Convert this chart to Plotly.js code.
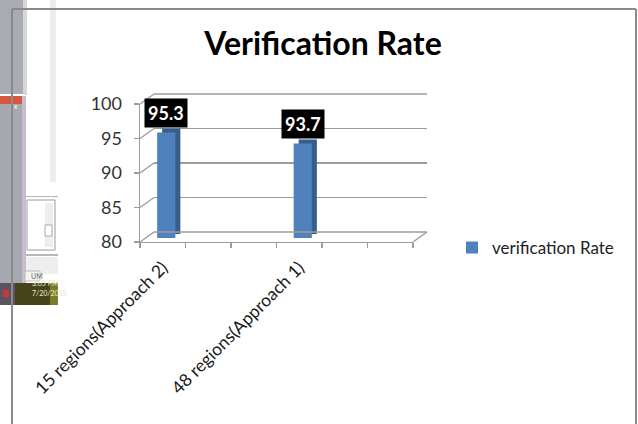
<!DOCTYPE html>
<html>
<head>
<meta charset="utf-8">
<script src="https://cdn.plot.ly/plotly-3.0.1.min.js"></script>
<style>html,body{margin:0;padding:0;background:#fff}#chart{width:638px;height:424px}</style>
</head>
<body>
<div id="chart"></div>
<script>
// ---- data ----
const categories = ["15 regions(Approach 2)", "(blank 2)", "(blank 3)", "48 regions(Approach 1)", "(blank 5)", "(blank 6)"];
const labeledCategories = ["15 regions(Approach 2)", "48 regions(Approach 1)"];
const values = [95.3, null, null, 93.7, null, null];
const seriesName = "verification Rate";
const yTicks = [80, 85, 90, 95, 100];
const chartTitle = "Verification Rate";

// ---- layout helpers (pixel -> paper) ----
const W = 638, H = 424;
const px = p => p / W;
const py = p => 1 - p / H;
const yMin = 80, yMax = 100;
const idx = categories.map((_, i) => i);
const labelIdx = labeledCategories.map(c => categories.indexOf(c));
const xRange = [-0.5, categories.length - 0.5];

// 3D-ish planes: back wall, front axis, bar front face, bar depth
const backX = [px(154), px(427)], backY = [py(232), py(94)];
const frontX = [px(140), px(413)], frontY = [py(242), py(104)];
const faceX = [px(143.5), px(416.5)], faceY = [py(238), py(100)];
const depthX = [px(148.5), px(421.5)], depthY = [py(234), py(96)];

const gridCol = "#9c9c9c";
const font = "Lato, 'Open Sans', sans-serif";

const ghost = (xa, ya) => ({type: "scatter", mode: "markers", x: idx, y: values, xaxis: xa, yaxis: ya,
  marker: {opacity: 0}, showlegend: false, hoverinfo: "skip"});

const traces = [
  ghost("x", "y"),
  ghost("x2", "y2"),
  {type: "bar", x: idx, y: values, xaxis: "x3", yaxis: "y3", width: 0.4,
   marker: {color: "#385D8A"}, showlegend: false, hoverinfo: "skip"},
  {type: "bar", x: idx, y: values, xaxis: "x4", yaxis: "y4", width: 0.4,
   marker: {color: "#4F81BD"}, name: seriesName, showlegend: true}
];

const frac = (v, dom) => dom[0] + (v - yMin) / (yMax - yMin) * (dom[1] - dom[0]);

const shapes = [];
// screenshot artifacts on the left
const rect = (x0, y0, x1, y1, fill, line) => shapes.push({type: "rect", xref: "paper", yref: "paper",
  x0: px(x0), x1: px(x1), y0: py(y1), y1: py(y0), fillcolor: fill, line: {width: line ? 1 : 0, color: line || fill}, layer: "below"});
rect(0, 0, 25, 94, "#a8abb1");
rect(23, 0, 27, 95, "#d4d6da");
rect(50, 0, 56, 182, "#eeeeee");
rect(0, 96, 24, 104, "#d6573c");
rect(0, 104, 22, 284, "#a6a9b0");
rect(22, 96, 26, 284, "#c6bccb");
rect(26, 196, 58, 197, "#b5b5b5");
rect(27, 200, 55, 250, "#ffffff", "#9a9a9a");
rect(45, 203, 53, 247, "#eeeeee");
rect(45, 225, 52, 236, "#ffffff", "#aaaaaa");
rect(26, 254, 58, 256, "#b8b8b8");
rect(26, 257, 58, 274, "#eeeeee");
rect(25, 271, 40, 281, "#f4f4f4", "#bbbbbb");
rect(0, 283, 15, 305, "#5d5260");
rect(3, 290, 9, 297, "#c8383a");
rect(15, 283, 50, 305, "#45441c");
rect(50, 283, 58, 305, "#7d7c26");
// chart frame
const line = (x0, y0, x1, y1, col, w) => shapes.push({type: "line", xref: "paper", yref: "paper",
  x0: px(x0), x1: px(x1), y0: py(y0), y1: py(y1), line: {color: col, width: w}});
line(12, 9, 12, 424, "#8a8a8a", 2);
line(12, 9, 636, 9, "#8a8a8a", 2);
line(636, 9, 636, 424, "#8a8a8a", 2);
// left wall diagonals for each tick
yTicks.forEach(v => {
  shapes.push({type: "line", xref: "paper", yref: "paper",
    x0: frontX[0], y0: frac(v, frontY), x1: backX[0], y1: frac(v, backY),
    line: {color: gridCol, width: 1.4}});
});
// back wall edges at the range ends (floor and top)
[yMin, yMax].forEach(v => {
  shapes.push({type: "line", xref: "paper", yref: "paper",
    x0: backX[0], y0: frac(v, backY), x1: backX[1], y1: frac(v, backY),
    line: {color: gridCol, width: 1.4}});
});
// right floor edge
shapes.push({type: "line", xref: "paper", yref: "paper",
  x0: frontX[1], y0: frontY[0], x1: backX[1], y1: backY[0], line: {color: gridCol, width: 1.4}});

const annotations = [];
categories.forEach((c, i) => {
  if (values[i] == null) return;
  annotations.push({xref: "x4", yref: "y4", x: i, y: values[i], text: "<b>" + values[i].toFixed(1) + "</b>",
    showarrow: false, yanchor: "bottom", yshift: 4, bgcolor: "#000000", borderpad: 3,
    font: {family: font, size: 18, color: "#ffffff"}});
});
// taskbar texts
annotations.push({xref: "paper", yref: "paper", x: px(30), y: py(289), text: "3:05 PM", showarrow: false,
  font: {family: font, size: 7, color: "#e8e8c8"}});
annotations.push({xref: "paper", yref: "paper", x: px(30), y: py(299), text: "7/20/2018", showarrow: false,
  font: {family: font, size: 7, color: "#e8e8c8"}});
annotations.push({xref: "paper", yref: "paper", x: px(29), y: py(276), text: "UM", showarrow: false,
  font: {family: font, size: 7, color: "#666"}});
annotations.push({xref: "paper", yref: "paper", x: px(12), y: py(100), text: "x", showarrow: false,
  font: {family: font, size: 7, color: "#fff"}});

const hidden = {visible: false, range: xRange, fixedrange: true};

const layout = {
  width: W, height: H,
  margin: {l: 0, r: 0, t: 0, b: 0, pad: 0},
  paper_bgcolor: "#ffffff",
  plot_bgcolor: "rgba(0,0,0,0)",
  title: {text: chartTitle, x: px(323), xanchor: "center", y: py(44), yanchor: "middle",
    font: {family: font, size: 32, color: "#000", weight: "bold"}},
  showlegend: true,
  legend: {x: px(452), y: py(248), xanchor: "left", yanchor: "middle", itemwidth: 30,
    font: {family: font, size: 17, color: "#222"}, bgcolor: "rgba(0,0,0,0)"},
  barmode: "overlay",
  xaxis: {domain: backX, anchor: "y", range: xRange, showgrid: false, showticklabels: false,
    zeroline: false, showline: false, ticks: ""},
  yaxis: {domain: backY, anchor: "x", range: [yMin, yMax], tickmode: "array", tickvals: yTicks, showgrid: true,
    gridcolor: gridCol, gridwidth: 1.4, showticklabels: false, zeroline: false, showline: false, ticks: ""},
  xaxis2: {domain: frontX, anchor: "y2", range: xRange, showgrid: false, zeroline: false,
    showline: true, linecolor: gridCol, linewidth: 1.4,
    tickmode: "array", tickvals: labelIdx, ticktext: labeledCategories, ticks: "",
    tickangle: -45, ticklabelstandoff: 7, tickfont: {family: font, size: 17.5, color: "#1a1a1a"},
    minor: {tick0: 0.5, dtick: 1, ticks: "outside", ticklen: 5, tickcolor: gridCol, tickwidth: 1.4, showgrid: false}},
  yaxis2: {domain: frontY, anchor: "x2", range: [yMin, yMax], tickmode: "array", tickvals: yTicks, showgrid: false,
    zeroline: false, showline: true, linecolor: gridCol, linewidth: 1.4, ticks: "outside",
    ticklen: 5, tickcolor: gridCol, tickwidth: 1.4, ticklabelstandoff: 8,
    tickfont: {family: font, size: 18, color: "#333"}},
  xaxis3: Object.assign({domain: depthX, anchor: "y3"}, hidden),
  yaxis3: {domain: depthY, anchor: "x3", range: [yMin, yMax], visible: false},
  xaxis4: Object.assign({domain: faceX, anchor: "y4"}, hidden),
  yaxis4: {domain: faceY, anchor: "x4", range: [yMin, yMax], visible: false},
  shapes: shapes,
  annotations: annotations
};

Plotly.newPlot("chart", traces, layout, {displayModeBar: false, staticPlot: true});
</script>
</body>
</html>
